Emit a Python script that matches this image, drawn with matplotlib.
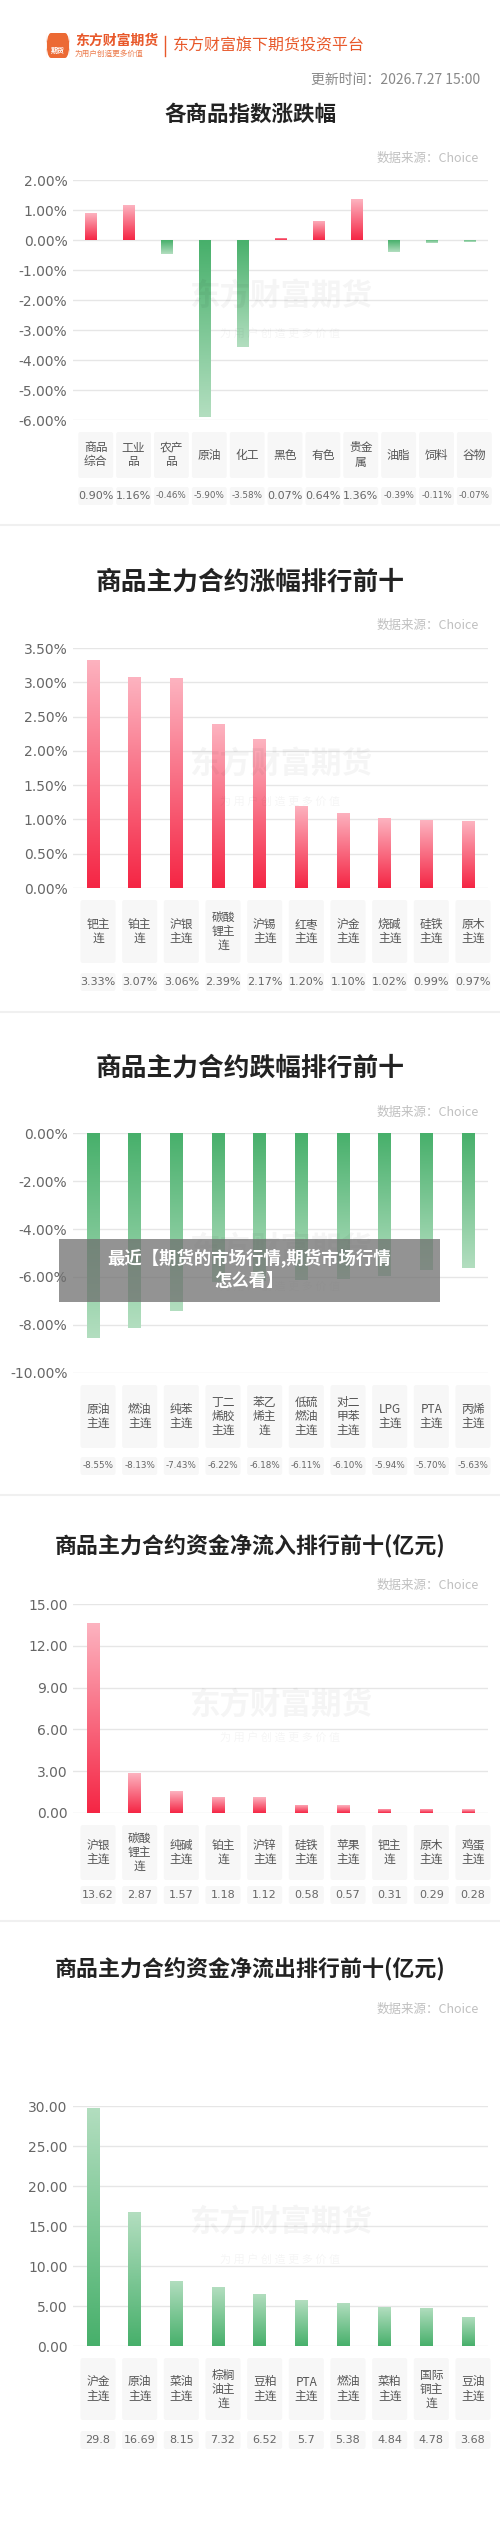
import matplotlib
matplotlib.use("Agg")
import matplotlib.pyplot as plt
import numpy as np
from matplotlib.patches import FancyBboxPatch, Rectangle
from matplotlib.transforms import blended_transform_factory

plt.rcParams['font.family'] = ['Noto Sans CJK SC', 'DejaVu Sans']

W, H = 500, 2542

# ---------------- data ----------------
p1_cats = ["商品\n综合", "工业\n品", "农产\n品", "原油", "化工", "黑色", "有色", "贵金\n属", "油脂", "饲料", "谷物"]
p1_vals = [0.90, 1.16, -0.46, -5.90, -3.58, 0.07, 0.64, 1.36, -0.39, -0.11, -0.07]

p2_cats = ["钯主\n连", "铂主\n连", "沪银\n主连", "碳酸\n锂主\n连", "沪锡\n主连", "红枣\n主连", "沪金\n主连", "烧碱\n主连", "硅铁\n主连", "原木\n主连"]
p2_vals = [3.33, 3.07, 3.06, 2.39, 2.17, 1.20, 1.10, 1.02, 0.99, 0.97]

p3_cats = ["原油\n主连", "燃油\n主连", "纯苯\n主连", "丁二\n烯胶\n主连", "苯乙\n烯主\n连", "低硫\n燃油\n主连", "对二\n甲苯\n主连", "LPG\n主连", "PTA\n主连", "丙烯\n主连"]
p3_vals = [-8.55, -8.13, -7.43, -6.22, -6.18, -6.11, -6.10, -5.94, -5.70, -5.63]

p4_cats = ["沪银\n主连", "碳酸\n锂主\n连", "纯碱\n主连", "铂主\n连", "沪锌\n主连", "硅铁\n主连", "苹果\n主连", "钯主\n连", "原木\n主连", "鸡蛋\n主连"]
p4_vals = [13.62, 2.87, 1.57, 1.18, 1.12, 0.58, 0.57, 0.31, 0.29, 0.28]

p5_cats = ["沪金\n主连", "原油\n主连", "菜油\n主连", "棕榈\n油主\n连", "豆粕\n主连", "PTA\n主连", "燃油\n主连", "菜粕\n主连", "国际\n铜主\n连", "豆油\n主连"]
p5_vals = [29.8, 16.69, 8.15, 7.32, 6.52, 5.7, 5.38, 4.84, 4.78, 3.68]

fig = plt.figure(figsize=(W / 100, H / 100), dpi=100)
fig.patch.set_facecolor("white")


def fy(y):
    return 1 - y / H


def ftext(x, y, s, **kw):
    fig.text(x / W, fy(y), s, **kw)


RED_BASE, RED_TIP = np.array([0.96, 0.15, 0.27]), np.array([0.99, 0.70, 0.75])
GRN_BASE, GRN_TIP = np.array([0.28, 0.69, 0.42]), np.array([0.70, 0.87, 0.75])


def grad_bar(ax, x, v, w, color):
    base, tip = (RED_BASE, RED_TIP) if color == "red" else (GRN_BASE, GRN_TIP)
    rect = ax.bar(x, v, width=w, color="none", edgecolor="none")[0]
    n = 64
    t = np.linspace(0, 1, n)[:, None]
    cols = base[None, :] * (1 - t) + tip[None, :] * t
    img = cols[:, None, :]
    if v >= 0:
        extent = (x - w / 2, x + w / 2, 0, v)
    else:
        extent = (x - w / 2, x + w / 2, v, 0)
        img = img[::-1]
    im = ax.imshow(img, extent=extent, origin="lower", aspect="auto", zorder=3, interpolation="bilinear")
    im.set_clip_path(rect)


def panel(title, tsize, src_y, title_y, ax_top, ax_bot, cats, vals, ylim, yticks, fmt,
          lab_top, lab_bot, val_y, val_fmt, val_size, colors):
    ftext(W / 2, title_y, title, ha="center", va="center", fontsize=tsize, fontweight="bold", color="#222222")
    if src_y:
        ftext(479, src_y, "数据来源：Choice", ha="right", va="center", fontsize=9, color="#c0c0c0")
    ax = fig.add_axes([73 / W, fy(ax_bot), 415 / W, (ax_bot - ax_top) / H])
    n = len(cats)
    x = np.arange(n)
    ax.set_xlim(-0.48, n - 1 + 0.48)
    ax.set_ylim(*ylim)
    ax.set_yticks(yticks)
    ax.set_yticklabels([fmt(t) for t in yticks], fontsize=10, color="#666666", family="DejaVu Sans")
    ax.grid(axis="y", color="#e6e6e6", lw=1)
    ax.set_axisbelow(True)
    for s in ax.spines.values():
        s.set_visible(False)
    ax.tick_params(length=0, pad=4)
    ax.set_xticks([])
    ax.set_autoscale_on(False)
    for xi, v, c in zip(x, vals, colors):
        grad_bar(ax, xi, v, 0.3, c)
    ax.text(0.5, 0.52, "东方财富期货", transform=ax.transAxes, ha="center", va="center",
            fontsize=22, fontweight="bold", color="#000000", alpha=0.04, zorder=5)
    ax.text(0.5, 0.36, "为 用 户 创 造 更 多 价 值", transform=ax.transAxes, ha="center", va="center",
            fontsize=8, color="#000000", alpha=0.04, zorder=5)
    tr = blended_transform_factory(ax.transData, fig.transFigure)
    for xi, c, v in zip(x, cats, vals):
        cx = xi + 0.12
        bw = 0.84 if n == 10 else 0.92
        fig.patches.append(FancyBboxPatch((cx - bw / 2, fy(lab_bot)), bw, (lab_bot - lab_top) / H,
                                          boxstyle="round,pad=0,rounding_size=0.05", transform=tr,
                                          facecolor="#f7f7f7", edgecolor="none", mutation_aspect=0.02))
        fig.text(cx, fy((lab_top + lab_bot) / 2), c, transform=tr, ha="center", va="center",
                 fontsize=8.5, color="#555555", linespacing=1.1)
        fig.patches.append(FancyBboxPatch((cx - bw / 2, fy(val_y + 9)), bw, 18 / H,
                                          boxstyle="round,pad=0,rounding_size=0.05", transform=tr,
                                          facecolor="#f7f7f7", edgecolor="none", mutation_aspect=0.02))
        fig.text(cx, fy(val_y), val_fmt(v), transform=tr, ha="center", va="center",
                 fontsize=val_size(v), color="#666666", family="DejaVu Sans")
    return ax


def sep(y):
    fig.add_artist(plt.Line2D([0, 1], [fy(y), fy(y)], color="#f0f0f0", lw=1.5))


# ---------------- header ----------------
fig.patches.append(FancyBboxPatch((46 / W, fy(58)), 24 / W, 25 / H, boxstyle="round,pad=0,rounding_size=0.01",
                                  transform=fig.transFigure, facecolor="#ec6a34", edgecolor="none"))
ftext(58, 50, "期货", ha="center", va="center", fontsize=5, color="white", fontweight="bold")
ftext(75, 41, "东方财富期货", ha="left", va="center", fontsize=10, color="#e8582a", fontweight="bold")
ftext(75, 54, "为用户创造更多价值", ha="left", va="center", fontsize=5.5, color="#ec7a4a")
fig.add_artist(plt.Line2D([165 / W, 165 / W], [fy(36), fy(56)], color="#e8582a", lw=1))
ftext(173, 46, "东方财富旗下期货投资平台", ha="left", va="center", fontsize=11.5, color="#e8582a")
ftext(480, 80, "更新时间：2026.7.27 15:00", ha="right", va="center", fontsize=10, color="#888888")

pct2 = lambda t: f"{t:.2f}%"
num2 = lambda t: f"{t:.2f}"

panel("各商品指数涨跌幅", 15.5, 158, 114, 180, 420, p1_cats, p1_vals, (-6, 2), np.arange(-6, 2.01, 1), pct2,
      432, 478, 496, lambda v: f"{v:.2f}%", lambda v: 8 if v >= 0 else 6.3,
      ["red" if v >= 0 else "green" for v in p1_vals])
sep(525)
panel("商品主力合约涨幅排行前十", 18.5, 625, 582, 648, 888, p2_cats, p2_vals, (0, 3.5), np.arange(0, 3.51, 0.5), pct2,
      900, 963, 982, lambda v: f"{v:.2f}%", lambda v: 8, ["red"] * 10)
sep(1012)
panel("商品主力合约跌幅排行前十", 18.5, 1112, 1068, 1133, 1373, p3_cats, p3_vals, (-10, 0), np.arange(-10, 0.01, 2), pct2,
      1385, 1448, 1466, lambda v: f"{v:.2f}%", lambda v: 6.3, ["green"] * 10)
sep(1495)
panel("商品主力合约资金净流入排行前十(亿元)", 15.8, 1585, 1547, 1604, 1813, p4_cats, p4_vals, (0, 15), np.arange(0, 15.1, 3), num2,
      1825, 1880, 1895, lambda v: f"{v:g}", lambda v: 8, ["red"] * 10)
sep(1921)
panel("商品主力合约资金净流出排行前十(亿元)", 15.8, 2009, 1970, 2106, 2346, p5_cats, p5_vals, (0, 30), np.arange(0, 30.1, 5), num2,
      2358, 2420, 2440, lambda v: f"{v:g}", lambda v: 8, ["green"] * 10)

fig.patches.append(Rectangle((59 / W, fy(1302)), 381 / W, 63 / H, transform=fig.transFigure,
                             facecolor="#6f6f6f", alpha=0.75, edgecolor="none", zorder=10))
ftext(249, 1258, "最近【期货的市场行情,期货市场行情", ha="center", va="center", fontsize=12.5,
      fontweight="bold", color="white", zorder=11)
ftext(249, 1281, "怎么看】", ha="center", va="center", fontsize=12.5, fontweight="bold", color="white", zorder=11)

fig.savefig("out.png", dpi=100, facecolor="white")
